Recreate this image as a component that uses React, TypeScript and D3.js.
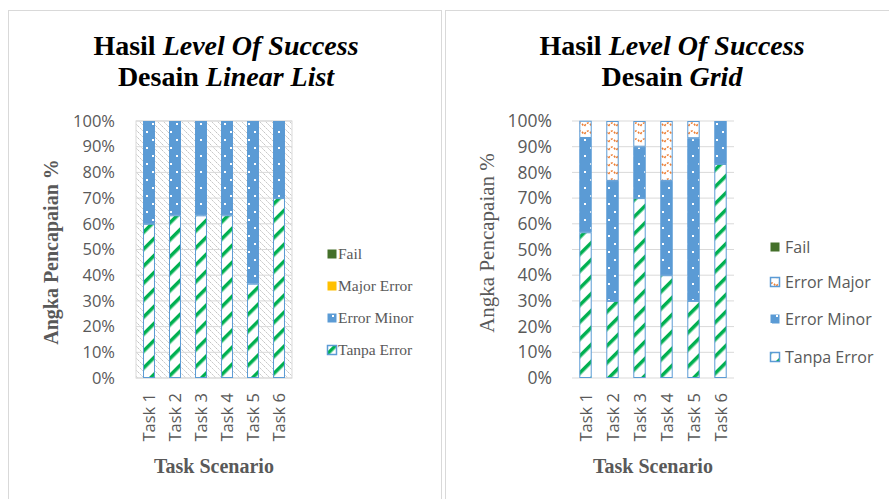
import React from "react";
import * as d3 from "d3";

const tasks = ["Task 1", "Task 2", "Task 3", "Task 4", "Task 5", "Task 6"];
const seriesKeys = ["tanpa", "minor", "major", "fail"];

// Linear List design
const linTanpa = [0.6, 0.633, 0.633, 0.633, 0.367, 0.7];
const linMinor = [0.4, 0.367, 0.367, 0.367, 0.633, 0.3];
const linMajor = [0, 0, 0, 0, 0, 0];
const linFail = [0, 0, 0, 0, 0, 0];

// Grid design
const gridTanpa = [0.567, 0.3, 0.7, 0.4, 0.3, 0.833];
const gridMinor = [0.367, 0.467, 0.2, 0.367, 0.633, 0.167];
const gridMajor = [0.067, 0.233, 0.1, 0.233, 0.067, 0];
const gridFail = [0, 0, 0, 0, 0, 0];

const yTicks = [0, 0.1, 0.2, 0.3, 0.4, 0.5, 0.6, 0.7, 0.8, 0.9, 1];

const BLUE = "#5B9BD5";
const GREEN = "#00B050";
const ORANGE = "#ED7D31";
const GRAY = "#595959";
const SANS = "'Open Sans', 'Liberation Sans', sans-serif";
const SERIF = "'Liberation Serif', 'Times New Roman', serif";

function buildRows(tanpa: number[], minor: number[], major: number[], fail: number[]) {
  return tasks.map((t, i) => ({ task: t, tanpa: tanpa[i], minor: minor[i], major: major[i], fail: fail[i] }));
}

const fills: Record<string, string> = {
  tanpa: "url(#pTanpa)",
  minor: "url(#pMinor)",
  major: "url(#pMajor)",
  fail: "#44702A",
};

type ChartProps = {
  rows: any[];
  x0: number;
  x1: number;
  title2: string;
  hatched: boolean;
  tickX: number;
  tickSize: number;
  yTitleX: number;
  yTitleY: number;
  yTitleBold: boolean;
  xTitleX: number;
  legend: { label: string; key: string }[];
  legendX: number;
  legendY: number[];
  legendFont: string;
  legendSize: number;
  legendGap: number;
  titleX: number;
};

function Chart(p: ChartProps) {
  const yTop = 121;
  const yBot = 378;
  const x = d3.scaleBand<string>().domain(tasks).range([p.x0, p.x1]).paddingInner(0.54).paddingOuter(0.27);
  const y = d3.scaleLinear().domain([0, 1]).range([yBot, yTop]);
  const stack = d3.stack<any>().keys(seriesKeys);
  const layers = stack(p.rows);
  return (
    <g>
      <text x={p.titleX} y={55} textAnchor="middle" fontFamily={SERIF} fontWeight="bold" fontSize={28} fill="#000">
        Hasil <tspan fontStyle="italic">Level Of Success</tspan>
      </text>
      <text x={p.titleX} y={86} textAnchor="middle" fontFamily={SERIF} fontWeight="bold" fontSize={28} fill="#000">
        Desain <tspan fontStyle="italic">{p.title2}</tspan>
      </text>
      {p.hatched && (
        <rect x={p.x0} y={yTop} width={p.x1 - p.x0} height={yBot - yTop} fill="url(#pHatch)" stroke="#d9d9d9" strokeWidth={1} />
      )}
      {yTicks.map((t) => (
        <line key={"g" + t} x1={p.x0} x2={p.x1} y1={y(t)} y2={y(t)} stroke="#d9d9d9" strokeWidth={1} />
      ))}
      {yTicks.map((t) => (
        <text key={"t" + t} x={p.tickX} y={y(t)} dy="0.35em" textAnchor="end" fontFamily={SANS} fontSize={p.tickSize} fill={GRAY}>
          {d3.format(".0%")(t)}
        </text>
      ))}
      {layers.map((layer) =>
        layer.map((d, i) => {
          const h = y(d[0]) - y(d[1]);
          if (h <= 0) return null;
          const k = layer.key;
          return (
            <rect
              key={k + i}
              x={x(tasks[i])! + 0.5}
              y={y(d[1]) + 0.5}
              width={x.bandwidth() - 1}
              height={h - 1}
              fill={fills[k]}
              stroke={k === "fail" ? "none" : BLUE}
              strokeWidth={1}
            />
          );
        })
      )}
      {tasks.map((t) => {
        const cx = x(t)! + x.bandwidth() / 2;
        return (
          <text key={t} transform={`translate(${cx + 6},393) rotate(-90)`} textAnchor="end" fontFamily={SANS} fontSize={16.5} fill={GRAY}>
            {t}
          </text>
        );
      })}
      <text
        transform={`translate(${p.yTitleX},${p.yTitleY}) rotate(-90)`}
        textAnchor="middle"
        fontFamily={SERIF}
        fontWeight={p.yTitleBold ? "bold" : "normal"}
        fontSize={p.yTitleBold ? 20 : 21}
        fill={GRAY}
      >
        Angka Pencapaian %
      </text>
      <text x={p.xTitleX} y={473} textAnchor="middle" fontFamily={SERIF} fontWeight="bold" fontSize={20} fill={GRAY}>
        Task Scenario
      </text>
      {p.legend.map((l, i) => (
        <g key={l.label}>
          <rect
            x={p.legendX + 0.5}
            y={p.legendY[i] - 4.5}
            width={9}
            height={9}
            fill={l.key === "majorSolid" ? "#FFC000" : fills[l.key]}
            stroke={l.key === "tanpa" || l.key === "major" ? BLUE : "none"}
            strokeWidth={1.5}
          />
          <text x={p.legendX + p.legendGap} y={p.legendY[i]} dy="0.35em" fontFamily={p.legendFont} fontSize={p.legendSize} fill={GRAY}>
            {l.label}
          </text>
        </g>
      ))}
    </g>
  );
}

export default function App() {
  const linRows = buildRows(linTanpa, linMinor, linMajor, linFail);
  const gridRows = buildRows(gridTanpa, gridMinor, gridMajor, gridFail);
  return (
    <svg width={889} height={499} style={{ position: "absolute", left: 0, top: 0, background: "#fff" }}>
      <defs>
        <pattern id="pHatch" patternUnits="userSpaceOnUse" width={6} height={6}>
          <rect width={6} height={6} fill="#fff" />
          <path d="M0,0 L6,6 M-1,5 L1,7 M5,-1 L7,1" stroke="#c4c4c4" strokeWidth={1} strokeDasharray="2,1" />
        </pattern>
        <pattern id="pTanpa" patternUnits="userSpaceOnUse" width={12} height={12} patternTransform="rotate(45)">
          <rect width={12} height={12} fill="#fff" />
          <rect x={0} y={0} width={3.5} height={12} fill={GREEN} />
        </pattern>
        <pattern id="pMinor" patternUnits="userSpaceOnUse" width={12} height={16}>
          <rect width={12} height={16} fill={BLUE} />
          <rect x={2} y={3} width={2} height={2} fill="#fff" />
          <rect x={8} y={11} width={2} height={2} fill="#fff" />
        </pattern>
        <pattern id="pMajor" patternUnits="userSpaceOnUse" width={8} height={8}>
          <rect width={8} height={8} fill="#fff" />
          <path d="M0.5,6 Q4,0 7.5,6" fill="none" stroke={ORANGE} strokeWidth={1.6} strokeDasharray="2,1.5" />
        </pattern>
      </defs>
      <rect x={8.5} y={10.5} width={433} height={500} fill="none" stroke="#d9d9d9" strokeWidth={1} />
      <rect x={445.5} y={10.5} width={460} height={500} fill="none" stroke="#d9d9d9" strokeWidth={1} />
      <Chart
        rows={linRows}
        x0={136}
        x1={292}
        title2="Linear List"
        hatched={true}
        tickX={115}
        tickSize={16.5}
        yTitleX={58}
        yTitleY={252}
        yTitleBold={true}
        xTitleX={214}
        titleX={226}
        legend={[
          { label: "Fail", key: "fail" },
          { label: "Major Error", key: "majorSolid" },
          { label: "Error Minor", key: "minor" },
          { label: "Tanpa Error", key: "tanpa" },
        ]}
        legendX={327}
        legendY={[254, 286, 318, 350]}
        legendFont={SERIF}
        legendSize={15.5}
        legendGap={11}
      />
      <Chart
        rows={gridRows}
        x0={572}
        x1={734}
        title2="Grid"
        hatched={false}
        tickX={552}
        tickSize={17.5}
        yTitleX={494}
        yTitleY={243}
        yTitleBold={false}
        xTitleX={653}
        titleX={672}
        legend={[
          { label: "Fail", key: "fail" },
          { label: "Error Major", key: "major" },
          { label: "Error Minor", key: "minor" },
          { label: "Tanpa Error", key: "tanpa" },
        ]}
        legendX={770}
        legendY={[247, 282, 319, 357]}
        legendFont={SANS}
        legendSize={16}
        legendGap={15}
      />
    </svg>
  );
}
